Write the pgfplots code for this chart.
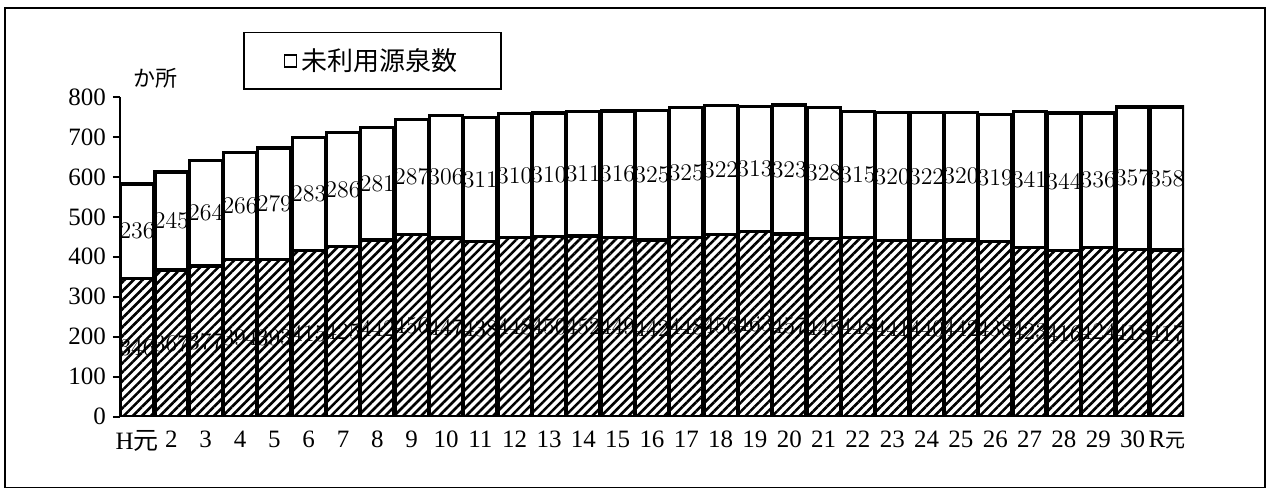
\documentclass[border=0pt]{standalone}
\usepackage{fontspec}
\setmainfont{Liberation Serif}
\newfontfamily\jp{Noto Sans CJK JP}
\usepackage{pgfplots}
\pgfplotsset{compat=1.18}
\usepackage{pgfplotstable}
\usetikzlibrary{patterns.meta}

\pgfplotstableread{
x lo up
0 346 236
1 367 245
2 377 264
3 394 266
4 393 279
5 415 283
6 425 286
7 442 281
8 456 287
9 447 306
10 438 311
11 448 310
12 450 310
13 452 311
14 449 316
15 442 325
16 448 325
17 456 322
18 463 313
19 457 323
20 445 328
21 448 315
22 441 320
23 440 322
24 442 320
25 438 319
26 423 341
27 416 344
28 424 336
29 418 357
30 417 358
}\data

\begin{document}
\begin{tikzpicture}
\begin{axis}[name=ax,
  scale only axis, width=532.5bp, height=160bp,
  ybar stacked, bar width=16.5bp,
  xmin=-0.5, xmax=30.5, ymin=0, ymax=800,
  ytick={0,100,...,800},
  xtick={0,...,30},
  xticklabels={H{\jp 元},2,3,4,5,6,7,8,9,10,11,12,13,14,15,16,17,18,19,20,21,22,23,24,25,26,27,28,29,30,R{\jp\fontsize{10bp}{11bp}\selectfont 元}},
  axis y line*=left, axis x line*=bottom,
  x axis line style={draw=none}, xtick style={draw=none},
  y axis line style={line width=1bp},
  ytick style={line width=1bp, black},
  tick align=outside, major tick length=3.5bp,
  tick label style={font=\fontsize{12.5bp}{14bp}\selectfont},
  /pgf/number format/assume math mode=true,
  legend style={draw=black, line width=0.9bp, at={(0.2376,1)}, anchor=center, yshift=18bp,
    inner xsep=20bp, inner ysep=6bp, font=\fontsize{13bp}{15bp}\selectfont},
  legend image code/.code={\draw[line width=0.6bp, fill=white] (0bp,-3bp) rectangle (6bp,3bp);},
]
\addplot[forget plot, draw=black, line width=1.6bp, pattern={Lines[angle=45,distance=3.2pt,line width=1.3pt]}] table[x=x,y=lo] \data;
\addplot[draw=black, line width=1.6bp, fill=white] table[x=x,y=up] \data;
\addlegendentry{\jp 未利用源泉数}
\end{axis}
\begin{axis}[
  scale only axis, width=532.5bp, height=160bp,
  xmin=-0.5, xmax=30.5, ymin=0, ymax=800,
  hide axis, clip=false,
  nodes near coords, point meta=explicit,
  nodes near coords style={font=\fontsize{13bp}{15bp}\selectfont, black, anchor=center, inner sep=0pt},
]
\addplot[draw=none, mark=none] table[x=x, y expr=\thisrow{lo}/2, meta=lo] \data;
\addplot[draw=none, mark=none] table[x=x, y expr=\thisrow{lo}+\thisrow{up}/2, meta=up] \data;
\node[font=\jp\fontsize{11bp}{12bp}\selectfont] at ([yshift=9.5bp]axis description cs:0.033,1) {か所};
\end{axis}
\draw[line width=0.8bp] ([xshift=-57.5bp,yshift=-35.5bp]ax.south west) rectangle ([xshift=40.5bp,yshift=44.5bp]ax.north east);
\path ([xshift=-60bp,yshift=-39bp]ax.south west) rectangle ([xshift=43bp,yshift=48.5bp]ax.north east);
\end{tikzpicture}
\end{document}
